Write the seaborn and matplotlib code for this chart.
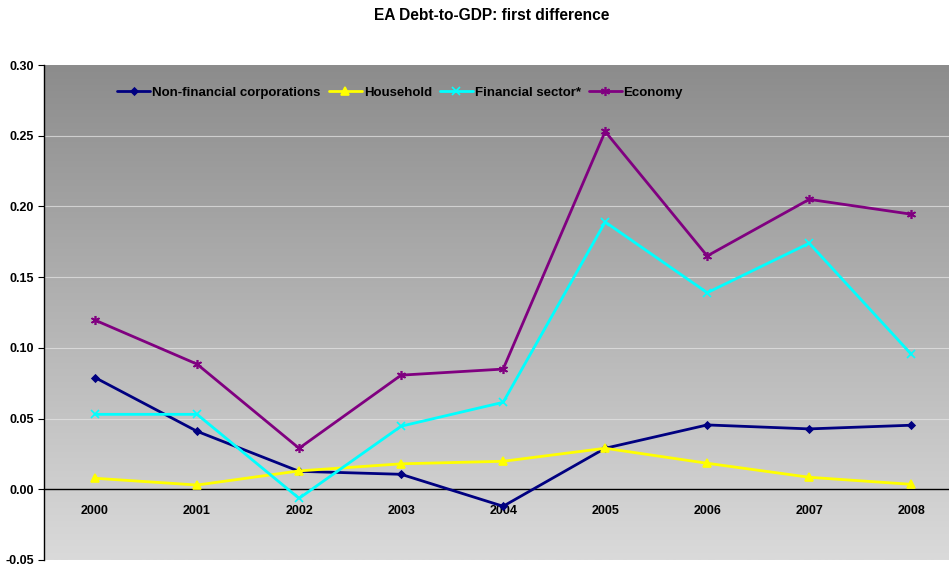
import numpy as np
import pandas as pd
import matplotlib
matplotlib.use("Agg")
import matplotlib.pyplot as plt
import seaborn as sns
from matplotlib.ticker import FixedLocator, FuncFormatter

years = [2000, 2001, 2002, 2003, 2004, 2005, 2006, 2007, 2008]
nfc = [0.079, 0.041, 0.0127, 0.0106, -0.012, 0.029, 0.0455, 0.0427, 0.0453]
household = [0.0078, 0.003, 0.013, 0.018, 0.0198, 0.029, 0.0184, 0.0085, 0.0035]
financial = [0.053, 0.053, -0.0064, 0.0446, 0.0615, 0.189, 0.139, 0.174, 0.0955]
economy = [0.1196, 0.0885, 0.029, 0.0807, 0.085, 0.253, 0.165, 0.205, 0.1945]
series_names = ["Non-financial corporations", "Household", "Financial sector*", "Economy"]
title = "EA Debt-to-GDP: first difference"

sns.set_style("white")
plt.rcParams['font.family'] = ['Liberation Sans', 'DejaVu Sans']
plt.rcParams['font.weight'] = 'bold'
plt.rcParams['text.color'] = 'black'
plt.rcParams['xtick.color'] = 'black'
plt.rcParams['ytick.color'] = 'black'
plt.rcParams['xtick.labelcolor'] = 'black'
plt.rcParams['ytick.labelcolor'] = 'black'

rows = []
for name, vals in zip(series_names, [nfc, household, financial, economy]):
    for y, v in zip(years, vals):
        rows.append({"year": y, "value": v, "series": name})
df = pd.DataFrame(rows)

palette = {"Non-financial corporations": "#000080", "Household": "#FFFF00",
           "Financial sector*": "#00FFFF", "Economy": "#800080"}
markers = {"Non-financial corporations": "D", "Household": "^",
           "Financial sector*": "x", "Economy": (6, 2, 0)}
msizes = {"Non-financial corporations": 3.5, "Household": 6,
          "Financial sector*": 6, "Economy": 6.5}

fig = plt.figure(figsize=(9.49, 5.66), dpi=100)
ax = fig.add_axes([44/949, 1-560/566, 1-44/949, (560-65)/566])

# gradient background
grad = np.linspace(0, 1, 256).reshape(-1, 1)
top = np.array([0x8c, 0x8c, 0x8c]) / 255
bot = np.array([0xda, 0xda, 0xda]) / 255
img = top[None, None, :] * (1 - grad[:, :, None]) + bot[None, None, :] * grad[:, :, None]
ax.imshow(img, extent=[0, 1, 0, 1], transform=ax.transAxes, aspect='auto', zorder=0)

for name in series_names:
    sub = df[df.series == name]
    sns.lineplot(data=sub, x="year", y="value", color=palette[name], marker=markers[name],
                 markersize=msizes[name], markeredgecolor=palette[name], markeredgewidth=1.2,
                 linewidth=2.0, ax=ax, label=name, zorder=3)

ax.set_xlim(1999.5, 2008.37)
ax.set_ylim(-0.05, 0.30)
yt = [-0.05, 0.0, 0.05, 0.10, 0.15, 0.20, 0.25, 0.30]
ax.yaxis.set_major_locator(FixedLocator(yt))
ax.yaxis.set_major_formatter(FuncFormatter(lambda v, p: f"{v:.2f}"))
for v in yt:
    if v not in (0.0, -0.05, 0.30):
        ax.axhline(v, color="#e6e6e6", linewidth=0.8, alpha=0.7, zorder=1)

ax.set_xticks(years)
ax.set_xticklabels([str(y) for y in years])
ax.set_xticks([y + 0.5 for y in years[:-1]] + [1999.5], minor=True)
ax.tick_params(axis='x', which='major', length=0, pad=11, labelsize=9)
ax.tick_params(axis='x', which='minor', length=4, direction='out', color='black', width=0.8)
ax.tick_params(axis='y', which='major', length=4, direction='out', left=True, labelsize=9,
               color='black', width=0.8, pad=3)

ax.spines['bottom'].set_position(('data', 0))
ax.spines['bottom'].set_color('black')
ax.spines['bottom'].set_linewidth(1.0)
ax.spines['bottom'].set_zorder(2)
ax.spines['left'].set_color('black')
ax.spines['left'].set_linewidth(1.0)
ax.spines['top'].set_visible(False)
ax.spines['right'].set_visible(False)
ax.set_xlabel("")
ax.set_ylabel("")

leg = ax.legend(loc='upper left', bbox_to_anchor=(0.068, 0.98), ncol=4, frameon=False,
                handlelength=2.5, handletextpad=0.15, columnspacing=0.6,
                prop={'weight': 'bold', 'size': 9.5})
for t in leg.get_texts():
    t.set_color('black')

fig.text(492/949, 1-16/566, title, ha='center', va='center', fontsize=11.2, fontweight='bold',
         color='black')

fig.savefig("out.png", dpi=100)
